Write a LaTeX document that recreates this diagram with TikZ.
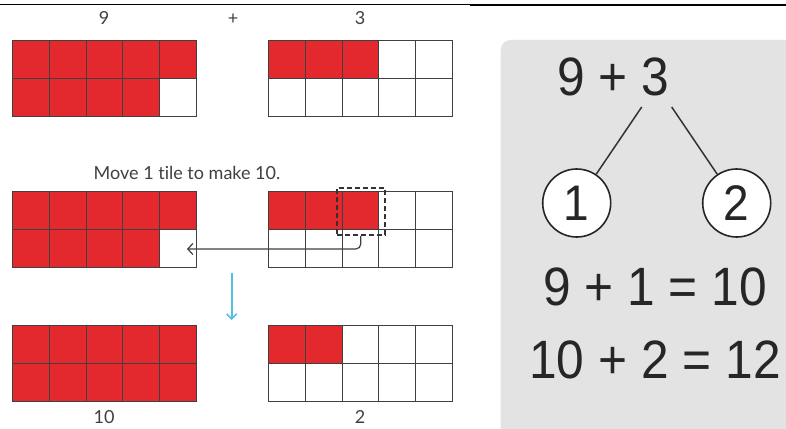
\documentclass[tikz,border=0pt]{standalone}
\usepackage{fontspec}
\setmainfont[Ligatures=NoCommon]{Lato}
\newfontfamily\panelfont[FakeStretch=0.92]{Liberation Sans}
\usetikzlibrary{arrows.meta}
\definecolor{tilered}{RGB}{227,41,46}
\definecolor{panelgray}{RGB}{227,227,227}
\definecolor{moveblue}{RGB}{86,190,228}
\tikzset{
    tile/.style={draw=black!75,line width=0.9pt},
    numtag/.style={font=\fontsize{18}{21}\selectfont,text=black!75},
    part/.style={circle,draw=black!85,line width=1.6pt,fill=white,minimum size=68pt,inner sep=0pt,
        font=\panelfont\fontsize{50}{50}\selectfont,text=black!85},
    sum/.style={font=\panelfont\fontsize{54}{54}\selectfont,text=black!85},
    fork/.style={line width=1.5pt,black!80},
}

\begin{document}
\begin{tikzpicture}[x=1pt,y=-1pt]
\useasboundingbox (0,0) rectangle (786,428);

% rules at the top
\draw[line width=0.8pt] (0,4) -- (470,4);
\draw[line width=2.2pt] (470,5) -- (786,5);

% ten frames
\foreach \gx/\gy/\n in {12.7/40/9, 268.7/40/3, 12.7/191.7/9, 268.7/191.7/3, 12.7/325.7/10, 268.7/325.7/2} {
    \foreach \i in {0,...,9} {
        \pgfmathtruncatemacro{\col}{mod(\i,5)}
        \pgfmathtruncatemacro{\row}{\i/5}
        \ifnum\i<\n \def\tc{tilered}\else\def\tc{white}\fi
        \filldraw[tile,fill=\tc] (\gx+\col*36.7,\gy+\row*38) rectangle ++(36.7,38);
    }
}

\node[numtag] (nine) at (104,18) {9};
\node[numtag] (plus) at (233,19) {+};
\node[numtag] (three) at (360,18) {3};
\node[numtag] (move) at (187,173) {Move 1 tile to make 10.};
\node[numtag] (ten) at (104,417) {10};
\node[numtag] (two) at (360,417) {2};

% moving one tile
\node[draw=black!80,dash pattern=on 5pt off 3pt,line width=2pt,minimum width=48pt,minimum height=47pt] (pick) at (360.8,211.3) {};
\coordinate (gap) at (187,249);
\draw[-{Straight Barb[length=5pt,width=11pt]},line width=1.2pt,black!75,rounded corners=5pt] (pick.south) |- (gap);

\coordinate (downtop) at (231.7,273);
\coordinate (downend) at (231.7,320);
\draw[moveblue,line width=1.6pt,-{Straight Barb[length=5pt,width=10pt]}] (downtop) -- (downend);

% number bond panel
\fill[panelgray,rounded corners=10pt] (500.7,40) rectangle (810,450);
\node[sum] (split) at (613,77) {9 + 3};
\node[part] (one) at (576.7,203) {1};
\node[part] (twoc) at (736.7,203) {2};
\coordinate (forkL) at (641.7,107);
\coordinate (forkR) at (671.7,107);
\draw[fork] (forkL) -- (one);
\draw[fork] (forkR) -- (twoc);
\node[sum] (first) at (655,287) {9 + 1 = 10};
\node[sum] (second) at (655,360) {10 + 2 = 12};
\end{tikzpicture}
\end{document}
